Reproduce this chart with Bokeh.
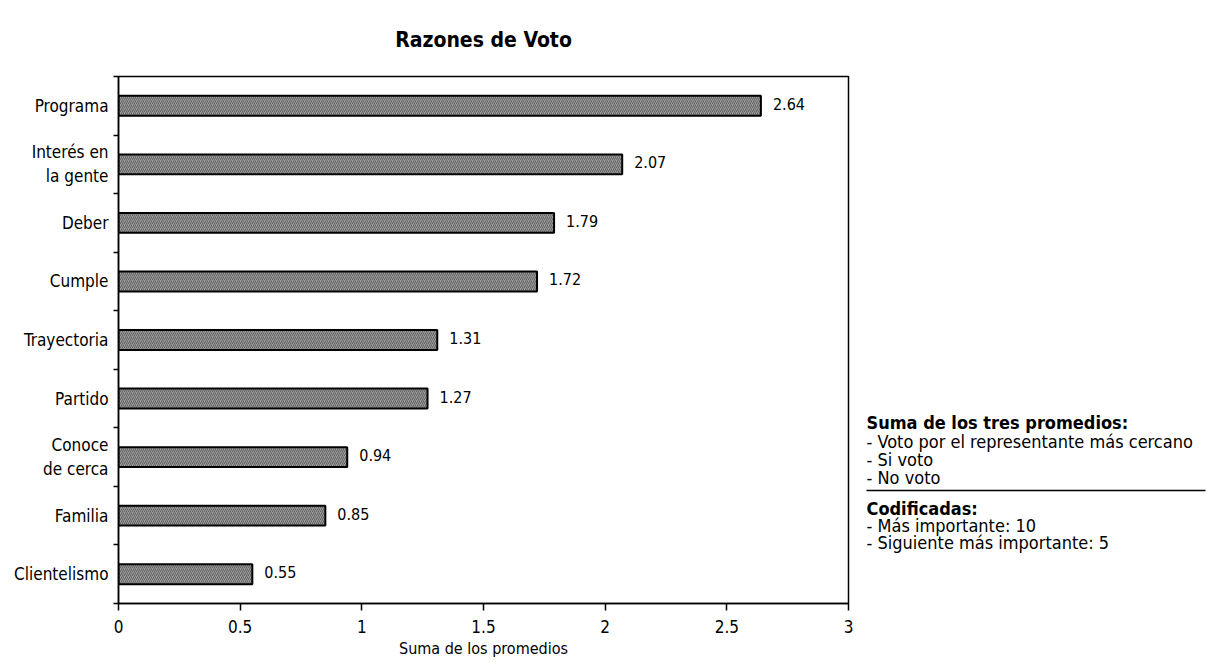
from bokeh.plotting import figure
from bokeh.layouts import row
from bokeh.models import FixedTicker, Range1d, ColumnDataSource
from bokeh.core.properties import value
from bokeh.embed import file_html
from bokeh.resources import INLINE

categories = ["Programa", "Interés en\nla gente", "Deber", "Cumple", "Trayectoria",
              "Partido", "Conoce\nde cerca", "Familia", "Clientelismo"]
values = [2.64, 2.07, 1.79, 1.72, 1.31, 1.27, 0.94, 0.85, 0.55]
value_labels = ["2.64", "2.07", "1.79", "1.72", "1.31", "1.27", "0.94", "0.85", "0.55"]
x_ticks = [0, 0.5, 1, 1.5, 2, 2.5, 3]
x_tick_labels = ["0", "0.5", "1", "1.5", "2", "2.5", "3"]
notes_title_1 = "Suma de los tres promedios:"
notes_1 = ["- Voto por el representante más cercano", "- Si voto", "- No voto"]
notes_title_2 = "Codificadas:"
notes_2 = ["- Más importante: 10", "- Siguiente más importante: 5"]

FONT = "DejaVu Sans Condensed"
n = len(categories)
ypos = [n - 1 - i for i in range(n)]

p = figure(width=858, height=660, output_backend="svg", toolbar_location=None,
           x_range=Range1d(0, 3), y_range=Range1d(-0.5, n - 0.5),
           min_border_left=118, min_border_right=10, min_border_top=75, min_border_bottom=55)

src = ColumnDataSource(dict(y=ypos, v=values, lab=value_labels))
p.hbar(y="y", right="v", left=0, height=0.34, source=src,
       fill_color="#9a9a9a", line_color="black", line_width=2,
       hatch_pattern="right_diagonal_line", hatch_color="#4a4a4a",
       hatch_scale=4, hatch_weight=1, hatch_alpha=0.7)
p.text(x="v", y="y", text="lab", source=src, x_offset=12, y_offset=-2,
       text_baseline="middle", text_align="left", text_font_size="16px",
       text_color="black", text_font=value(FONT))

p.title.text = "Razones de Voto"
p.title.align = "center"
p.title.text_font = FONT
p.title.text_font_size = "21px"
p.title.text_font_style = "bold"
p.title.text_color = "black"
p.title.standoff = 50

p.grid.visible = False
p.outline_line_color = "black"
p.outline_line_width = 1.5

xa = p.xaxis[0]
xa.ticker = FixedTicker(ticks=x_ticks)
xa.major_label_overrides = {t: l for t, l in zip(x_ticks, x_tick_labels)}
xa.major_tick_in = 0
xa.major_tick_out = 7
xa.major_tick_line_width = 1.5
xa.minor_tick_line_color = None
xa.axis_line_width = 1.5
xa.axis_label = "Suma de los promedios"
xa.axis_label_text_font = FONT
xa.axis_label_text_font_size = "16px"
xa.axis_label_text_font_style = "normal"
xa.axis_label_text_color = "black"
xa.axis_label_standoff = 3
xa.major_label_text_font = FONT
xa.major_label_text_font_size = "17px"
xa.major_label_text_color = "black"
xa.major_label_standoff = 9

ya = p.yaxis[0]
ya.ticker = FixedTicker(ticks=ypos, minor_ticks=[y + 0.5 for y in range(-1, n)])
ya.major_label_overrides = {y: c for y, c in zip(ypos, categories)}
ya.major_tick_line_color = None
ya.minor_tick_in = 0
ya.minor_tick_out = 5
ya.minor_tick_line_width = 1.5
ya.axis_line_width = 1.5
ya.major_label_text_font = FONT
ya.major_label_text_font_size = "17px"
ya.major_label_text_color = "black"
ya.major_label_standoff = 4

# notes panel (pixel-like coordinates, y downward; frame aligned with main frame)
q = figure(frame_width=350, frame_height=530, output_backend="svg", toolbar_location=None,
           x_range=Range1d(0, 350), y_range=Range1d(530, 0), title=None,
           x_axis_location=None, y_axis_location=None,
           min_border_left=0, min_border_right=0, min_border_top=75, min_border_bottom=55,
           outline_line_color=None)
q.grid.visible = False
nx = 8
lines = [notes_title_1] + notes_1
ly = [346, 365, 383, 401]
q.text(x=[nx] * len(lines), y=ly, text=lines, text_baseline="middle",
       text_font=value(FONT), text_font_size="18px", text_color="black",
       text_font_style=["bold", "normal", "normal", "normal"])
q.line(x=[nx, 347], y=[414, 414], line_color="black", line_width=1.5)
lines2 = [notes_title_2] + notes_2
ly2 = [432, 449, 466]
q.text(x=[nx] * len(lines2), y=ly2, text=lines2, text_baseline="middle",
       text_font=value(FONT), text_font_size="18px", text_color="black",
       text_font_style=["bold", "normal", "normal"])

open("out.html", "w").write(file_html(row(p, q), INLINE))
